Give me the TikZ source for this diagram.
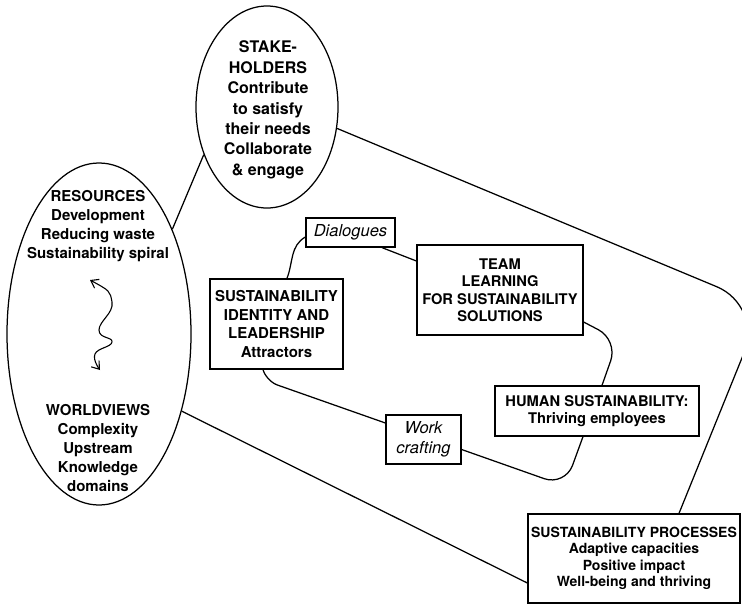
\documentclass[tikz,border=0pt]{standalone}
\usepackage{fontspec}
\setmainfont{TeX Gyre Heros}
\usetikzlibrary{shapes.geometric,calc,arrows.meta}
\begin{document}
\begin{tikzpicture}[x=1pt,y=-1pt, line width=1.25pt,
  box/.style={draw, rectangle, align=center, inner sep=0pt},
  ibox/.style={draw, rectangle, align=center, inner sep=0pt, font=\fontsize{16.5}{20}\selectfont\itshape},
  oval/.style={draw, ellipse, inner sep=0pt},
  txt/.style={align=center, inner sep=0pt},
  wire/.style={line width=1.25pt}]
\useasboundingbox (0,0) rectangle (742,605);

% ellipses
\node[oval, minimum width=142pt, minimum height=202pt] (stake) at (267,107) {};
\node[txt, font=\fontsize{16}{20.4}\selectfont\bfseries] (stxt) at (268,110)
  {STAKE-\\HOLDERS\\Contribute\\to satisfy\\their needs\\Collaborate\\\& engage};

\node[oval, minimum width=184pt, minimum height=342pt] (res) at (99,334) {};
\node[txt, font=\fontsize{15}{19}\selectfont\bfseries] (rtxt) at (98,226)
  {RESOURCES\\Development\\Reducing waste\\Sustainability spiral};
\node[txt, font=\fontsize{15}{19}\selectfont\bfseries] (wtxt) at (98,448)
  {WORLDVIEWS\\Complexity\\Upstream\\Knowledge\\domains};

% squiggle
\coordinate (sq1) at (90,280);
\coordinate (sq2) at (100,370);
\draw[{Straight Barb[length=7pt,width=10pt]}-{Straight Barb[length=7pt,width=10pt]}, line width=1.1pt]
  plot[smooth, tension=0.8] coordinates {(sq1) (112,302) (99,330) (112,342) (95,354) (sq2)};

% boxes
\node[box, minimum width=133pt, minimum height=90pt, font=\fontsize{15}{18.5}\selectfont\bfseries] (ident) at (276.5,324)
  {SUSTAINABILITY\\IDENTITY AND\\LEADERSHIP\\Attractors};
\node[ibox, minimum width=89pt, minimum height=29pt] (dial) at (350.5,232.5) {Dialogues};
\node[box, minimum width=166pt, minimum height=90pt, font=\fontsize{14.7}{17.5}\selectfont\bfseries] (team) at (500,290)
  {TEAM\\LEARNING\\FOR SUSTAINABILITY\\SOLUTIONS};
\node[box, minimum width=204pt, minimum height=50pt, font=\fontsize{14.7}{17}\selectfont\bfseries] (human) at (597,411)
  {HUMAN SUSTAINABILITY:\\Thriving employees};
\node[ibox, minimum width=75pt, minimum height=49pt] (work) at (423.5,439.5) {Work\\crafting};
\node[box, minimum width=212pt, minimum height=89pt, font=\fontsize{14}{16.5}\selectfont\bfseries] (sp) at (634,558.5)
  {SUSTAINABILITY PROCESSES\\Adaptive capacities\\Positive impact\\Well-being and thriving};

% bend points
\coordinate (b1) at (763,306);
\coordinate (b2) at (266,381);
\coordinate (b3) at (618,340);
\coordinate (b4) at (565,486);

% connectors
\draw[wire] (stake.217) -- (res.55);
\draw[wire, rounded corners=50pt] (stake.-17) -- (b1) -- ($(sp.north)+(45,0)$);
\draw[wire] (res.-43) -- ($(sp.west)+(0,24.5)$);
\draw[wire] ($(ident.north)+(10.5,0)$) to[out=69,in=210] ($(dial.west)+(0,4.5)$);
\draw[wire] ($(dial.south)+(31.5,0)$) -- ($(team.west)+(0,-29)$);
\draw[wire, rounded corners=22pt] ($(team.east)+(0,32)$) -- (b3) -- ($(human.north)+(5,0)$);
\draw[wire, rounded corners=22pt] ($(human.south)+(-14,0)$) -- (b4) -- ($(work.east)+(0,10)$);
\draw[wire, rounded corners=12pt] ($(ident.south)+(-13.5,0)$) -- (b2) -- ($(work.west)+(0,-16.5)$);
\end{tikzpicture}
\end{document}
